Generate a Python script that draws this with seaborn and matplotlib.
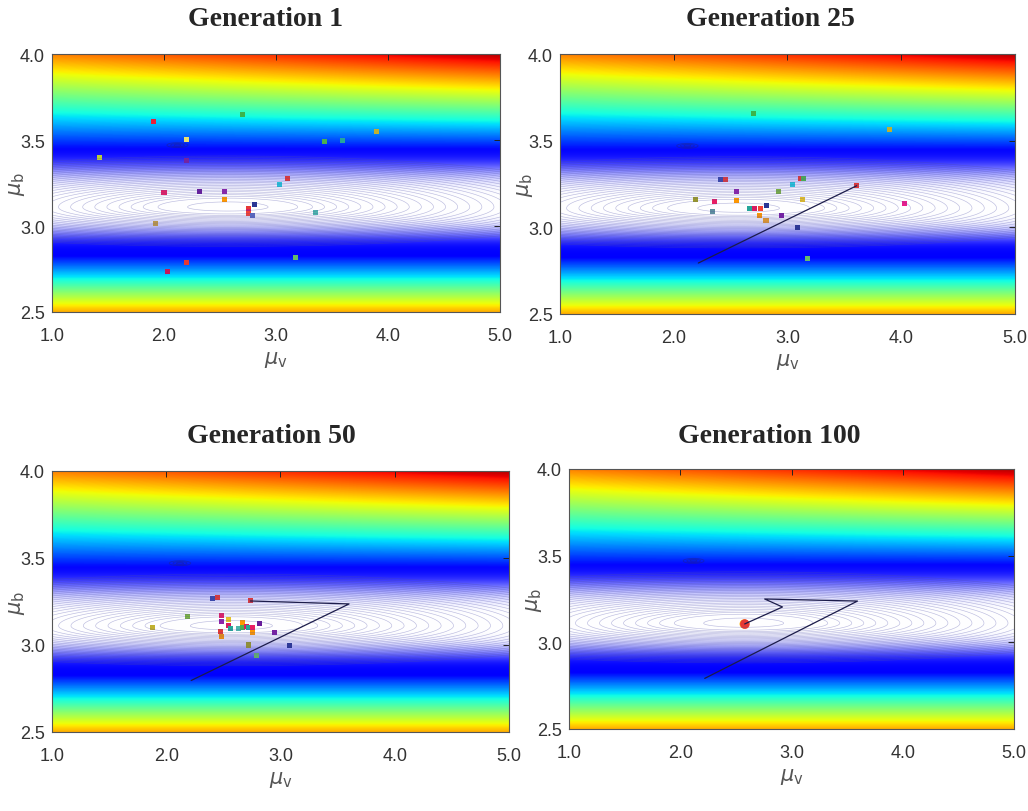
import numpy as np
import pandas as pd
import seaborn as sns
from matplotlib import pyplot as plt
from matplotlib import cm

sns.set_style('white')
plt.rcParams['font.family'] = ['Liberation Sans Narrow', 'Liberation Sans', 'DejaVu Sans']

TITLES = ['Generation 1', 'Generation 25', 'Generation 50', 'Generation 100']

# particles of each generation (mu_v, mu_b, colour)
gen1_v = [1.906, 2.70, 2.20, 1.42, 2.20, 3.435, 3.59, 3.90, 3.107, 3.03, 2.00, 2.32,
          2.544, 2.544, 2.81, 2.755, 2.755, 2.755, 2.79, 3.35, 1.92, 2.20, 2.03, 3.176]
gen1_b = [3.61, 3.65, 3.505, 3.40, 3.38, 3.49, 3.497, 3.55, 3.276, 3.24, 3.195, 3.20,
          3.20, 3.152, 3.123, 3.10, 3.085, 3.074, 3.06, 3.08, 3.014, 2.79, 2.735, 2.816]
gen1_c = ['#e8203a', '#3cb44b', '#e8e070', '#bcd035', '#7b1fa2', '#4caf50', '#26a69a',
          '#c0b030', '#e53935', '#26c6da', '#e91e63', '#6a1b9a', '#8e24aa', '#ff9800',
          '#283593', '#e53935', '#d81b60', '#f44336', '#5c6bc0', '#4db6ac', '#c8a040',
          '#e53935', '#c2185b', '#66bb6a']

gen25_v = [2.705, 3.895, 2.412, 2.459, 3.11, 3.14, 3.045, 2.553, 2.922, 3.608, 2.19, 2.357,
           2.55, 3.133, 4.027, 2.34, 2.665, 2.714, 2.764, 2.817, 2.758, 2.949, 2.811, 3.086, 3.177]
gen25_b = [3.654, 3.562, 3.275, 3.275, 3.279, 3.279, 3.246, 3.204, 3.208, 3.244, 3.163, 3.148,
           3.156, 3.163, 3.14, 3.094, 3.106, 3.11, 3.106, 3.125, 3.071, 3.071, 3.037, 2.998, 2.819]
gen25_c = ['#3cb44b', '#c0b030', '#3949ab', '#e53935', '#e53935', '#4caf50', '#26c6da',
           '#8e24aa', '#7cb342', '#e53935', '#9e9d24', '#e91e63', '#ff9800', '#e6c229',
           '#e91e8c', '#5f8f9f', '#26a69a', '#d81b60', '#f44336', '#283593', '#ff9800',
           '#7b1fa2', '#f0a020', '#283593', '#66bb6a']

gen50_v = [2.408, 2.452, 2.736, 2.183, 1.877, 2.481, 2.487, 2.546, 2.549, 2.566, 2.473, 2.481,
           2.63, 2.665, 2.665, 2.706, 2.72, 2.759, 2.753, 2.814, 2.946, 2.721, 2.788, 3.083]
gen50_b = [3.27, 3.274, 3.253, 3.163, 3.102, 3.169, 3.136, 3.144, 3.111, 3.092, 3.077, 3.05,
           3.096, 3.127, 3.102, 3.106, 3.10, 3.102, 3.073, 3.125, 3.071, 3.0, 2.94, 2.997]
gen50_c = ['#3949ab', '#e53935', '#e53935', '#7cb342', '#c0b030', '#e91e63', '#8e24aa',
           '#e6c229', '#d81b60', '#26a69a', '#e53935', '#ff9800', '#4db6ac', '#ff9800',
           '#4caf50', '#d81b60', '#26a69a', '#e91e63', '#ff9800', '#6a1b9a', '#7b1fa2',
           '#9e9d24', '#66bb6a', '#283593']

gen100_v = [2.575, 2.582, 2.580]
gen100_b = [3.106, 3.104, 3.106]
gen100_c = ['#ffb300', '#ff7043', '#e53935']

# path of the global best
path25_v = [2.216, 3.608]
path25_b = [2.794, 3.240]
path50_v = [2.218, 3.600, 2.736]
path50_b = [2.796, 3.236, 3.253]
path100_v = [2.220, 3.593, 2.759, 2.919, 2.579]
path100_b = [2.792, 3.238, 3.250, 3.204, 3.106]

GENS = [
    (gen1_v, gen1_b, gen1_c, None, None),
    (gen25_v, gen25_b, gen25_c, path25_v, path25_b),
    (gen50_v, gen50_b, gen50_c, path50_v, path50_b),
    (gen100_v, gen100_b, gen100_c, path100_v, path100_b),
]

# objective landscape
V, B = np.meshgrid(np.linspace(1, 5, 500), np.linspace(2.5, 4, 400))
lo = 0.125 + 1.85 * (2.825 - B)
hi = 0.125 + (1.17 + (V - 1) / 4 * 0.33) * (B - 3.447)
cval = np.clip(np.maximum(0.125, np.maximum(lo, hi)), 0, 1)
rgb = cm.jet(cval)[..., :3]
d = B - 3.12
w = np.where(d > 0, np.exp(-(d / 0.23) ** 4), np.exp(-(d / 0.18) ** 4))
rgb = rgb * (1 - w[..., None]) + w[..., None]
db = np.where(B < 3.11, 1.3, 1.0) * (B - 3.11)
G = db ** 2 + ((V - 2.57) / 12) ** 2
radii = np.concatenate([[0.03, 0.052], np.arange(0.063, 0.30, 0.009)])
levels = radii ** 2
# small local dip near (2.1, 3.47)
dip = np.exp(-((V - 2.12) / 0.08) ** 2 - ((B - 3.47) / 0.012) ** 2)

fig = plt.figure(figsize=(10.28, 8.12), dpi=100)
boxes = [(52, 55, 500, 313), (560, 55, 1015, 315), (52, 472, 509, 733), (569, 470, 1014, 730)]
title_pos = [(265, 20), (770, 20), (271, 437), (769, 437)]

for i, (box, gen) in enumerate(zip(boxes, GENS)):
    l, t, r, btm = box
    ax = fig.add_axes([l / 1028, 1 - btm / 812, (r - l) / 1028, (btm - t) / 812])
    ax.imshow(rgb, extent=(1, 5, 2.5, 4), origin='lower', aspect='auto', interpolation='bilinear')
    ax.contour(V, B, G, levels=levels, colors='#4a4aa8', linewidths=0.45, alpha=0.37)
    ax.contour(V, B, dip, levels=[0.25, 0.55, 0.85], colors='#20208a', linewidths=0.6, alpha=0.5)

    pv, pb, pc, lv, lb = gen
    if lv is not None:
        path = pd.DataFrame({'v': lv, 'b': lb})
        sns.lineplot(data=path, x='v', y='b', sort=False, estimator=None,
                     color='#1c1c4a', linewidth=0.9, ax=ax)
    pts = pd.DataFrame({'v': pv, 'b': pb, 'c': pc})
    size = 45 if i == 3 else 13
    sns.scatterplot(data=pts, x='v', y='b', hue='c', palette={c: c for c in pc},
                    marker='o' if i == 3 else 's', s=size, linewidth=0, legend=False, ax=ax)

    ax.set_xlim(1, 5)
    ax.set_ylim(2.5, 4)
    ax.set_xticks([1, 2, 3, 4, 5])
    ax.set_xticklabels(['1.0', '2.0', '3.0', '4.0', '5.0'])
    ax.set_yticks([2.5, 3.0, 3.5, 4.0])
    ax.set_yticklabels(['2.5', '3.0', '3.5', '4.0'])
    ax.tick_params(direction='in', top=True, right=True, length=4, width=0.7,
                   labelsize=13, labelcolor='#333333', color='#222222')
    ax.tick_params(axis='x', pad=11)
    ax.tick_params(axis='y', pad=5)
    for s in ax.spines.values():
        s.set_color('#555555')
        s.set_linewidth(0.8)
    ax.set_xlabel(r'$\mu_\mathrm{v}$', fontsize=15, color='#555555')
    ax.set_ylabel(r'$\mu_\mathrm{b}$', fontsize=15, color='#555555')
    wpx, hpx = r - l, btm - t
    ax.xaxis.set_label_coords(0.5, -37 / hpx)
    ax.yaxis.set_label_coords(-25 / wpx, 0.5)

    tx, ty = title_pos[i]
    fig.text(tx / 1028, 1 - ty / 812, TITLES[i], ha='center', va='center',
             fontsize=20, fontweight='bold', family=['Liberation Serif', 'DejaVu Serif'])

fig.savefig('out.png', dpi=100)
